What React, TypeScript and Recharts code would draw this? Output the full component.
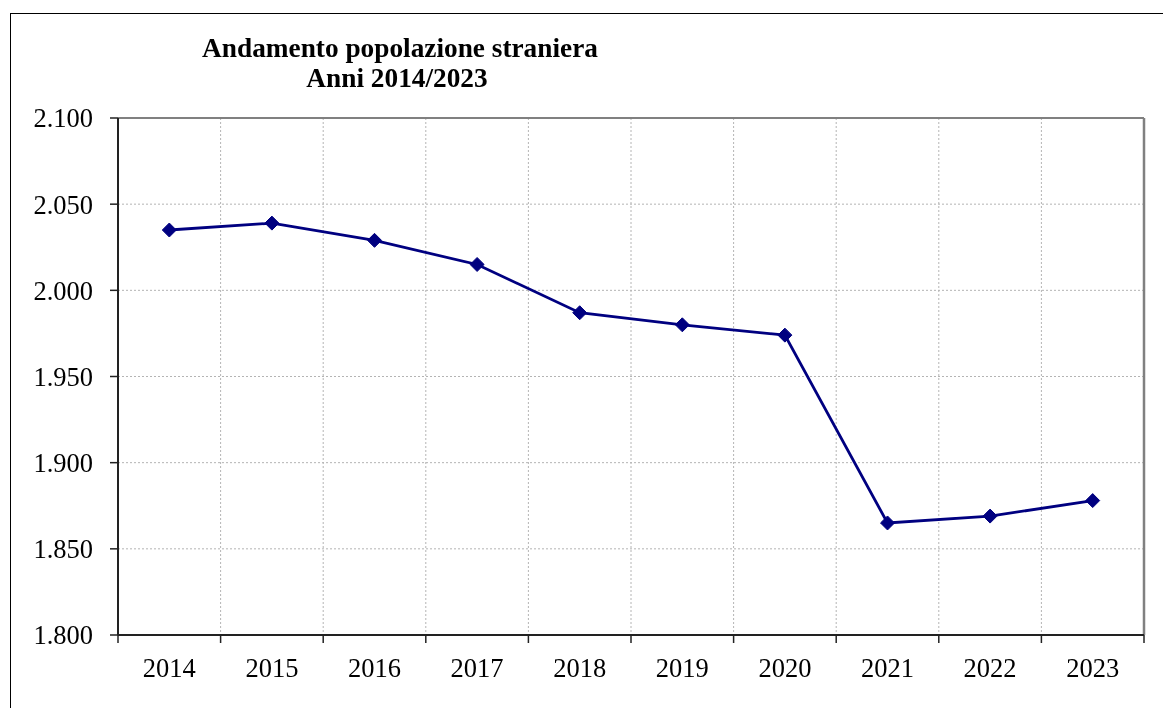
import React from "react";
import { LineChart, Line, XAxis, YAxis, CartesianGrid, ReferenceLine } from "recharts";

const years = [2014, 2015, 2016, 2017, 2018, 2019, 2020, 2021, 2022, 2023];
const population = [2035, 2039, 2029, 2015, 1987, 1980, 1974, 1865, 1869, 1878];
const yTicks = [1800, 1850, 1900, 1950, 2000, 2050, 2100];
const titleLines = ["Andamento popolazione straniera", "Anni 2014/2023"];

const data = years.map((year, i) => ({ year, value: population[i] }));
const firstEdge = years[0] - 0.5;
const lastEdge = years[years.length - 1] + 0.5;
const boundaryTicks = [...years.map((y) => y - 0.5), lastEdge];

const FONT = "'Liberation Serif', 'Times New Roman', serif";

const fmt = (v: number) => {
  const s = String(Math.round(v));
  return s.length > 3 ? s.slice(0, s.length - 3) + "." + s.slice(s.length - 3) : s;
};

const Diamond = (props: any) => {
  const { cx, cy, index } = props;
  if (cx == null || cy == null) return <g key={index} />;
  const r = 7;
  return (
    <path
      key={index}
      d={`M${cx},${cy - r}L${cx + r},${cy}L${cx},${cy + r}L${cx - r},${cy}Z`}
      fill="#000080"
      stroke="#000080"
      strokeWidth={1}
    />
  );
};

const PLOT_W = 1026;

const YearTick = (props: any) => {
  const { x, y, payload, width } = props;
  const w = typeof width === "number" && width > 0 ? width : PLOT_W;
  const half = w / years.length / 2;
  const label = payload.value + 0.5;
  if (label > years[years.length - 1]) return <g />;
  return (
    <text
      x={x + half}
      y={y}
      dy="0.71em"
      textAnchor="middle"
      fill="#000"
      fontSize={26.5}
      fontFamily={FONT}
    >
      {String(label)}
    </text>
  );
};

export default function App() {
  const W = 1147;
  const H = 690;
  return (
    <>
      <div
        style={{
          position: "fixed",
          left: 10,
          top: 13,
          width: 2000,
          height: 2000,
          border: "1px solid #000",
          boxSizing: "border-box",
          pointerEvents: "none",
        }}
      />
      <div
        style={{
          position: "relative",
          width: W,
          height: H,
          overflow: "hidden",
        }}
      >
        <div
          style={{
            position: "absolute",
            left: 92,
            top: 25,
            width: 600,
            textAlign: "center",
            fontFamily: FONT,
            fontWeight: "bold",
            fontSize: 27.3,
            lineHeight: "30px",
            color: "#000",
          }}
        >
          {titleLines[0]}
        </div>
        <div
          style={{
            position: "absolute",
            left: 89,
            top: 55,
            width: 600,
            textAlign: "center",
            fontFamily: FONT,
            fontWeight: "bold",
            fontSize: 27.3,
            lineHeight: "30px",
            color: "#000",
          }}
        >
          {titleLines[1]}
        </div>
        <div style={{ position: "absolute", left: 0, top: 0 }}>
          <LineChart width={W} height={H} data={data} margin={{ top: 110, right: 11, left: 0, bottom: 0 }}>
            <CartesianGrid stroke="#b4b4b4" strokeDasharray="2 2" strokeWidth={1} />
            <XAxis
              dataKey="year"
              type="number"
              domain={[firstEdge, lastEdge]}
              ticks={boundaryTicks}
              allowDataOverflow
              interval={0}
              tick={YearTick}
              tickSize={8}
              tickMargin={15}
              height={63}
              axisLine={{ stroke: "#222", strokeWidth: 2 }}
              tickLine={{ stroke: "#222", strokeWidth: 1.5 }}
            />
            <YAxis
              domain={[1800, 2100]}
              ticks={yTicks}
              allowDataOverflow
              width={110}
              tickSize={8}
              tickMargin={17}
              tickFormatter={fmt}
              axisLine={{ stroke: "#222", strokeWidth: 2 }}
              tickLine={{ stroke: "#222", strokeWidth: 1.5 }}
              tick={{ fill: "#000", fontSize: 26.5, fontFamily: FONT }}
            />
            <ReferenceLine y={2100} stroke="#808080" strokeWidth={2} />
            <ReferenceLine x={lastEdge} stroke="#808080" strokeWidth={2.5} />
            <Line
              type="linear"
              dataKey="value"
              stroke="#000080"
              strokeWidth={2.8}
              dot={Diamond}
              activeDot={false}
              isAnimationActive={false}
            />
          </LineChart>
        </div>
      </div>
    </>
  );
}
